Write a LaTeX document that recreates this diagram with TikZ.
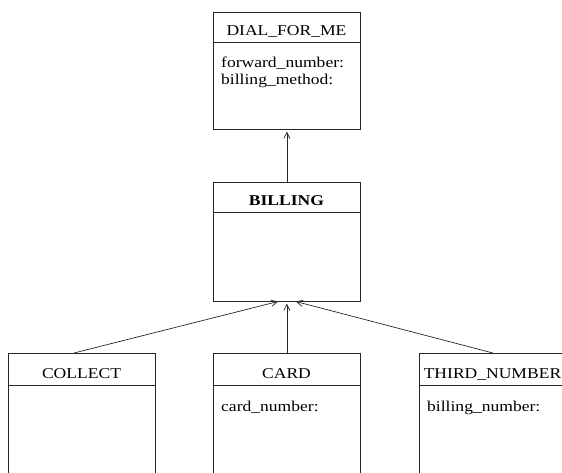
\documentclass[tikz,border=0pt]{standalone}
\usepackage{fontspec}
\setmainfont{Liberation Serif}
\usepackage{graphicx}
\usetikzlibrary{arrows.meta,calc}
\newcommand{\sx}[1]{\scalebox{1.17}[1]{#1}}
\tikzset{
  boxln/.style={draw=black!85, line width=0.7pt},
  classbox/.style={boxln, rectangle, anchor=north west, inner sep=0pt, minimum width=147pt},
  title/.style={anchor=base, inner sep=0pt, font=\fontsize{15}{17}\selectfont},
  attr/.style={anchor=base west, inner sep=0pt, font=\fontsize{15}{17}\selectfont},
  inh/.style={boxln, -{Straight Barb[length=6pt,width=6pt]}, shorten >=2pt}
}
\begin{document}
\begin{tikzpicture}[x=1pt,y=-1pt]
\useasboundingbox (0,0) rectangle (562,472);
\clip (0,0) rectangle (562,472);
% DIAL_FOR_ME
\node[classbox, minimum height=117pt] (dial) at (213,12) {};
\coordinate (dialdl) at (213,42);
\coordinate (dialdr) at (360,42);
\draw[boxln] (dialdl) -- (dialdr);
\node[title] (dialt) at (286.5,35) {\sx{DIAL\_FOR\_ME}};
\node[attr] (diala1) at (221,67) {\sx{forward\_number:}};
\node[attr] (diala2) at (221,84) {\sx{billing\_method:}};
% BILLING
\node[classbox, minimum height=119pt] (bill) at (213,182) {};
\coordinate (billdl) at (213,212);
\coordinate (billdr) at (360,212);
\draw[boxln] (billdl) -- (billdr);
\node[title] (billt) at (286.5,205) {\sx{\bfseries BILLING}};
% bottom classes
\node[classbox, minimum height=150pt] (coll) at (8,353) {};
\node[classbox, minimum height=150pt] (card) at (213,353) {};
\node[classbox, minimum height=150pt] (third) at (419,353) {};
\coordinate (colldl) at (8,385); \coordinate (colldr) at (155,385);
\coordinate (carddl) at (213,385); \coordinate (carddr) at (360,385);
\coordinate (thirddl) at (419,385); \coordinate (thirddr) at (566,385);
\draw[boxln] (colldl) -- (colldr);
\draw[boxln] (carddl) -- (carddr);
\draw[boxln] (thirddl) -- (thirddr);
\node[title] (collt) at (81.5,378) {\sx{COLLECT}};
\node[title] (cardt) at (286.5,378) {\sx{CARD}};
\node[title] (thirdt) at (492.5,378) {\sx{THIRD\_NUMBER}};
\node[attr] (carda) at (221,411) {\sx{card\_number:}};
\node[attr] (thirda) at (427,411) {\sx{billing\_number:}};
% connectors
\draw[inh] (bill.north) -- (dial.south);
\coordinate (collstart) at (74,353);
\coordinate (billl) at (280,301);
\coordinate (billr) at (294,301);
\draw[inh] (collstart) -- (billl);
\draw[inh] (card.north) -- (bill.south);
\draw[inh] (third.north) -- (billr);
\end{tikzpicture}
\end{document}
